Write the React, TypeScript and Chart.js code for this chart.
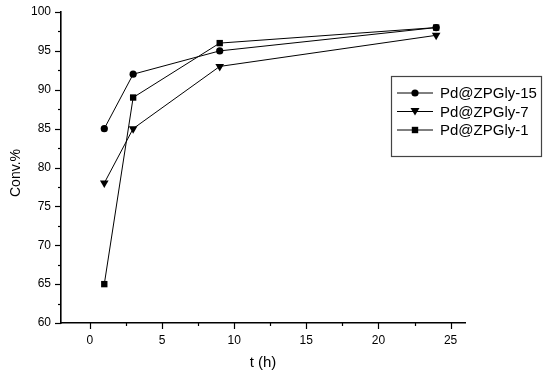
import React, { useEffect, useRef } from 'react';
import { Chart, registerables } from 'chart.js';

Chart.register(...registerables);

const timeH = [1, 3, 9, 24];
const conv15 = [85, 92, 95, 98];
const conv7 = [78, 85, 93, 97];
const conv1 = [65, 89, 96, 98];
const seriesNames = ['Pd@ZPGly-15', 'Pd@ZPGly-7', 'Pd@ZPGly-1'];
const seriesMarkers = ['circle', 'triangleDown', 'rect'];
const xTicks = [0, 2.5, 5, 7.5, 10, 12.5, 15, 17.5, 20, 22.5, 25];
const yTicks = [60, 62.5, 65, 67.5, 70, 72.5, 75, 77.5, 80, 82.5, 85, 87.5, 90, 92.5, 95, 97.5, 100];
const xTitle = 't (h)';
const yTitle = 'Conv.%';

const FONT = 'Arial, "Liberation Sans", Helvetica, sans-serif';

function drawMarker(ctx: CanvasRenderingContext2D, kind: string, x: number, y: number) {
  ctx.save();
  ctx.fillStyle = '#000';
  ctx.beginPath();
  if (kind === 'circle') {
    ctx.arc(x, y, 3.6, 0, Math.PI * 2);
  } else if (kind === 'triangleDown') {
    ctx.moveTo(x - 4.5, y - 3.5);
    ctx.lineTo(x + 4.5, y - 3.5);
    ctx.lineTo(x, y + 4);
    ctx.closePath();
  } else {
    ctx.rect(x - 3.2, y - 3.2, 6.4, 6.4);
  }
  ctx.fill();
  ctx.restore();
}

const decorPlugin = {
  id: 'decor',
  afterDatasetsDraw(chart: any) {
    const ctx: CanvasRenderingContext2D = chart.ctx;
    const xs = chart.scales.x;
    const ys = chart.scales.y;
    const area = chart.chartArea;
    ctx.save();
    ctx.strokeStyle = '#000';
    ctx.lineWidth = 1.2;
    ys.ticks.forEach((t: any) => {
      const py = Math.round(ys.getPixelForValue(t.value)) + 0.5;
      const major = t.value % 5 === 0;
      ctx.beginPath();
      ctx.moveTo(area.left, py);
      ctx.lineTo(area.left - (major ? 6 : 3), py);
      ctx.stroke();
    });
    xs.ticks.forEach((t: any) => {
      const px = Math.round(xs.getPixelForValue(t.value)) + 0.5;
      const major = t.value % 5 === 0;
      ctx.beginPath();
      ctx.moveTo(px, area.bottom);
      ctx.lineTo(px, area.bottom + (major ? 6 : 3));
      ctx.stroke();
    });
    ctx.fillStyle = '#000';
    ctx.textAlign = 'center';
    ctx.textBaseline = 'middle';
    ctx.font = `15px ${FONT}`;
    ctx.fillText(xTitle, (area.left + area.right) / 2, 363);
    ctx.font = `14px ${FONT}`;
    ctx.save();
    ctx.translate(16, 173);
    ctx.rotate(-Math.PI / 2);
    ctx.fillText(yTitle, 0, 0);
    ctx.restore();

    ctx.strokeStyle = '#444';
    ctx.lineWidth = 1.2;
    ctx.strokeRect(391.5, 76.5, 150, 80);
    ctx.font = `15px ${FONT}`;
    ctx.textAlign = 'left';
    chart.data.datasets.forEach((ds: any, i: number) => {
      const y = 93 + i * 18.5;
      ctx.strokeStyle = '#000';
      ctx.lineWidth = 1;
      ctx.beginPath();
      ctx.moveTo(397, y);
      ctx.lineTo(433, y);
      ctx.stroke();
      drawMarker(ctx, seriesMarkers[i], 415, y);
      ctx.fillStyle = '#000';
      ctx.fillText(ds.label, 440, y + 1);
    });
    ctx.restore();
  },
};

export default function App() {
  const ref = useRef<HTMLCanvasElement>(null);
  useEffect(() => {
    document.body.style.margin = '0';
    const mk = (vals: number[]) => vals.map((v, i) => ({ x: timeH[i], y: v }));
    const common = {
      borderColor: '#000',
      backgroundColor: '#000',
      borderWidth: 1,
      pointBorderWidth: 0,
      pointHoverRadius: 4,
    };
    const chart = new Chart(ref.current as HTMLCanvasElement, {
      type: 'line',
      data: {
        datasets: [
          { ...common, label: seriesNames[0], data: mk(conv15), pointStyle: 'circle', pointRadius: 3.6 },
          { ...common, label: seriesNames[1], data: mk(conv7), pointStyle: 'triangle', pointRotation: 180, pointRadius: 5 },
          { ...common, label: seriesNames[2], data: mk(conv1), pointStyle: 'rect', pointRadius: 4.5 },
        ],
      },
      options: {
        animation: false,
        responsive: false,
        events: [],
        layout: { padding: { left: 0, top: 12, right: 85, bottom: 0 } },
        plugins: { legend: { display: false }, tooltip: { enabled: false } },
        scales: {
          x: {
            type: 'linear',
            min: -2,
            max: 26,
            afterBuildTicks: (s: any) => { s.ticks = xTicks.map((v) => ({ value: v })); },
            afterFit: (s: any) => { s.height = 54; },
            grid: { display: false, drawTicks: true, tickLength: 6 },
            border: { display: true, color: '#000', width: 1.6 },
            ticks: {
              color: '#000',
              padding: 4,
              maxRotation: 0,
              autoSkip: false,
              font: { family: FONT, size: 12 },
              callback: (v: any) => (Number(v) % 5 === 0 ? String(v) : ''),
            },
          },
          y: {
            type: 'linear',
            min: 60,
            max: 100,
            afterBuildTicks: (s: any) => { s.ticks = yTicks.map((v) => ({ value: v })); },
            afterFit: (s: any) => { s.width = 61; },
            grid: { display: false, drawTicks: true, tickLength: 6 },
            border: { display: true, color: '#000', width: 1.6 },
            ticks: {
              color: '#000',
              padding: 4,
              autoSkip: false,
              font: { family: FONT, size: 12 },
              callback: (v: any) => (Number(v) % 5 === 0 ? String(v) : ''),
            },
          },
        },
      },
      plugins: [decorPlugin],
    });
    return () => chart.destroy();
  }, []);
  return <canvas ref={ref} width={550} height={377} style={{ display: 'block' }} />;
}
